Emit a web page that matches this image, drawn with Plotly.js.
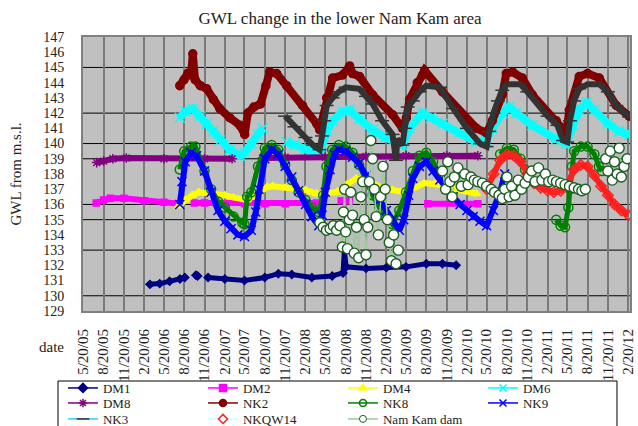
<!DOCTYPE html>
<html><head><meta charset="utf-8">
<script src="https://cdn.plot.ly/plotly-3.0.1.min.js"></script>
<style>html,body{margin:0;padding:0;background:#fff}#chart{width:638px;height:426px}</style>
</head><body><div id="chart"></div>
<script>
// ---------- axis data ----------
const tickDates = ['2005-05-20','2005-08-20','2005-11-20','2006-02-20','2006-05-20','2006-08-20','2006-11-20',
  '2007-02-20','2007-05-20','2007-08-20','2007-11-20','2008-02-20','2008-05-20','2008-08-20','2008-11-20',
  '2009-02-20','2009-05-20','2009-08-20','2009-11-20','2010-02-20','2010-05-20','2010-08-20','2010-11-20',
  '2011-02-20','2011-05-20','2011-08-20','2011-11-20','2012-02-20'];
const tickLabels = ['5/20/05','8/20/05','11/20/05','2/20/06','5/20/06','8/20/06','11/20/06',
  '2/20/07','5/20/07','8/20/07','11/20/07','2/20/08','5/20/08','8/20/08','11/20/08',
  '2/20/09','5/20/09','8/20/09','11/20/09','2/20/10','5/20/10','8/20/10','11/20/10',
  '2/20/11','5/20/11','8/20/11','11/20/11','2/20/12'];
const yTicks = [129,130,131,132,133,134,135,136,137,138,139,140,141,142,143,144,145,146,147];
const gridY = [130,133,135,136,139,140,142,145];

// ---------- series ----------
const dm1Dates = ['2006-03-18','2006-05-01','2006-06-15','2006-08-01','2006-08-23','2006-09-20','2006-10-12','2006-10-20','2006-11-10','2006-12-06','2007-02-20','2007-05-20','2007-08-20','2007-10-20','2007-12-20','2008-03-20','2008-06-20','2008-08-08','2008-08-14','2008-08-22','2008-11-20','2009-02-20','2009-05-20','2009-08-20','2009-11-01','2010-01-02'];
const dm1Values = [130.75,130.8,130.95,131.1,131.2,null,131.35,131.3,null,131.2,131.1,131.0,131.2,131.45,131.4,131.2,131.3,131.5,133.0,131.9,131.8,131.85,131.9,132.1,132.1,132.0];

const dm2Dates = ['2005-07-18','2005-08-20','2005-09-20','2005-11-20','2006-02-20','2006-05-20','2006-07-30','2006-08-30','2006-10-05','2006-11-20','2007-02-20','2007-05-20','2007-08-20','2007-11-20','2008-02-20','2008-04-10','2008-06-01','2008-07-31','2008-09-06','2009-01-01','2009-08-27','2010-04-10'];
const dm2Values = [136.1,136.3,136.4,136.4,136.25,136.15,136.05,null,136.1,136.1,136.05,136.05,136.05,136.05,136.1,136.1,null,136.25,136.25,null,136.05,136.05];

const dm4Dates = ['2006-07-25','2006-08-25','2006-09-25','2006-10-25','2006-12-20','2007-02-20','2007-04-01','2007-06-01','2007-07-20','2007-08-30','2007-09-25','2007-11-20','2008-02-20','2008-04-10','2008-07-10','2008-08-25','2008-10-05','2008-12-05','2009-01-25','2009-03-20','2009-05-20','2009-08-10','2009-09-25','2010-01-01','2010-04-05'];
const dm4Values = [135.9,136.3,136.6,136.8,136.75,136.6,136.45,136.3,136.7,137.15,137.2,137.1,136.95,136.7,136.8,137.3,137.7,137.6,137.1,136.95,136.8,137.4,137.35,137.0,136.7];

const dm6Dates = ['2006-07-31','2006-08-25','2006-09-28','2006-10-30','2006-11-30','2006-12-30','2007-01-28','2007-03-14','2007-04-29','2007-05-21','2007-06-20','2007-07-20','2007-08-11','2007-09-20','2007-11-27','2008-01-01','2008-02-20','2008-04-24','2008-05-26','2008-06-22','2008-08-06','2008-09-07','2008-10-22','2008-12-20','2009-02-17','2009-05-04','2009-06-05','2009-08-03','2009-09-10','2009-11-01','2010-01-17','2010-04-04','2010-05-19','2010-06-15','2010-07-30','2010-08-30','2010-10-01','2010-12-13','2011-03-31','2011-05-16','2011-06-15','2011-07-13','2011-08-15','2011-09-20','2011-11-20','2012-01-10','2012-02-26'];
const dm6Values = [141.7,142.1,142.3,141.8,141.3,140.8,140.2,139.6,139.2,139.4,140.0,140.6,141.0,null,140.1,139.9,139.6,139.3,140.8,141.5,142.1,142.2,141.6,140.9,140.4,139.9,141.0,142.0,141.7,141.3,140.7,140.1,140.2,141.0,142.0,142.4,142.0,141.2,140.3,140.0,141.2,142.2,142.7,142.2,141.3,140.8,140.6];

const dm8Dates = ['2005-07-20','2005-08-20','2005-10-01','2005-12-01','2006-05-20','2006-11-20','2007-03-25','2007-05-20','2007-08-10','2007-11-20','2008-05-20','2008-11-20','2009-05-20','2009-11-20','2010-04-10'];
const dm8Values = [138.75,138.85,139.0,139.05,139.0,139.0,139.0,null,139.05,139.1,139.1,139.15,139.2,139.2,139.2];

const nk2Dates = ['2006-07-31','2006-08-20','2006-09-05','2006-09-20','2006-09-28','2006-10-08','2006-11-01','2006-11-30','2006-12-30','2007-01-28','2007-03-14','2007-04-29','2007-05-21','2007-06-04','2007-07-01','2007-08-01','2007-08-25','2007-09-11','2007-10-13','2007-11-27','2008-02-07','2008-04-11','2008-04-24','2008-05-26','2008-06-22','2008-08-06','2008-09-07','2008-09-20','2008-10-22','2008-12-20','2009-03-20','2009-05-04','2009-05-22','2009-06-05','2009-07-10','2009-08-03','2009-08-12','2009-11-01','2010-01-17','2010-04-04','2010-05-19','2010-06-15','2010-07-30','2010-08-17','2010-09-15','2010-10-29','2010-12-13','2011-03-31','2011-05-16','2011-05-29','2011-07-13','2011-08-20','2011-10-12','2011-12-28','2012-02-24'];
const nk2Values = [143.8,144.2,144.6,144.5,145.9,144.2,143.8,143.6,142.9,142.3,141.7,141.2,140.6,142.0,142.4,142.6,143.8,144.7,144.6,143.8,142.5,141.3,140.9,143.0,144.3,144.5,145.1,144.6,144.4,143.2,141.9,141.0,141.7,142.9,144.0,144.5,144.8,143.4,142.1,141.0,140.7,141.5,143.2,144.6,144.7,144.3,143.2,141.5,140.7,142.2,144.4,144.6,144.3,142.5,141.8];

const nk8Dates = ['2006-07-31','2006-08-20','2006-09-20','2006-10-10','2006-11-20','2006-12-20','2007-01-20','2007-02-20','2007-04-01','2007-05-10','2007-05-20','2007-06-01','2007-06-20','2007-07-20','2007-08-20','2007-09-20','2007-10-20','2007-11-20','2007-12-20','2008-01-20','2008-02-20','2008-03-20','2008-04-20','2008-05-10','2008-05-25','2008-06-20','2008-07-20','2008-08-20','2008-09-20','2008-10-20','2008-11-20','2008-12-20','2009-01-20','2009-02-20','2009-03-20','2009-04-20','2009-05-20','2009-06-20','2009-07-20','2009-08-20','2009-09-20','2009-10-20','2010-03-01','2010-07-20','2010-08-20','2010-09-20','2010-10-20','2010-11-10','2011-01-01','2011-03-31','2011-04-20','2011-05-10','2011-05-25','2011-06-01','2011-06-10','2011-06-20','2011-07-20','2011-08-20','2011-09-20','2011-10-10','2011-10-25'];
const nk8Values = [138.3,139.5,139.8,139.8,138.2,137.0,136.2,135.8,135.2,134.8,134.7,136.5,136.8,138.5,139.7,139.9,139.6,138.6,137.6,136.8,136.3,135.8,135.5,136.6,138.5,139.6,139.9,139.8,139.4,138.6,137.6,136.6,135.8,135.2,134.7,135.6,136.8,138.2,139.2,139.4,138.8,137.9,null,139.3,139.7,139.6,139.0,138.3,null,135.0,134.6,134.5,135.8,137.0,138.5,139.5,139.8,139.8,139.3,138.5,138.2];

const nk9Dates = ['2006-07-31','2006-08-10','2006-08-25','2006-09-20','2006-10-15','2006-11-20','2006-12-20','2007-01-20','2007-02-20','2007-03-20','2007-04-20','2007-05-20','2007-06-20','2007-07-10','2007-07-25','2007-08-20','2007-09-20','2007-10-20','2007-11-20','2007-12-20','2008-01-20','2008-02-20','2008-03-20','2008-04-20','2008-05-05','2008-05-20','2008-06-10','2008-06-30','2008-07-20','2008-08-20','2008-09-20','2008-10-20','2008-11-20','2008-12-20','2009-01-20','2009-02-20','2009-03-20','2009-04-20','2009-05-10','2009-06-01','2009-06-20','2009-07-20','2009-08-20','2009-09-20','2009-10-20','2009-11-20','2009-12-20','2010-01-20','2010-02-20','2010-03-20','2010-04-20','2010-05-20','2010-06-20','2010-07-20','2010-08-10'];
const nk9Values = [136.0,137.5,138.8,139.4,139.2,138.2,136.8,135.6,134.9,134.4,134.0,133.9,134.3,135.5,137.0,139.0,139.6,139.3,138.5,137.8,136.9,136.0,135.2,134.6,135.3,136.8,138.3,139.3,139.6,139.5,139.1,138.7,137.9,137.0,136.3,135.6,135.0,134.3,135.0,136.6,137.7,138.5,138.8,138.2,137.6,137.0,136.5,136.0,135.6,135.2,134.9,134.6,135.6,136.8,138.0];

const nk3Dates = ['2007-11-20','2008-01-01','2008-02-20','2008-03-25','2008-04-24','2008-05-05','2008-05-15','2008-05-26','2008-06-22','2008-07-20','2008-08-20','2008-10-20','2008-11-20','2008-12-20','2009-02-01','2009-03-20','2009-04-05','2009-04-10','2009-05-04','2009-05-15','2009-05-28','2009-06-20','2009-07-20','2009-08-20','2009-10-20','2009-12-20','2010-02-20','2010-04-20','2010-05-20','2010-06-01','2010-06-20','2010-07-10','2010-07-30','2010-08-20','2010-10-20','2010-11-20','2011-02-20','2011-04-05','2011-05-01','2011-05-20','2011-06-01','2011-06-20','2011-07-13','2011-08-20','2011-10-12','2011-11-20','2011-12-28','2012-02-24'];
const nk3Values = [141.8,141.1,140.4,139.9,139.6,140.5,141.5,142.5,143.0,143.4,143.7,143.6,143.1,142.6,141.5,140.6,138.9,140.3,139.9,141.0,142.4,142.8,143.4,143.8,143.7,142.3,141.0,140.0,139.8,140.8,142.0,142.8,143.5,143.9,143.9,143.4,141.8,141.2,140.2,140.1,141.5,142.8,143.6,143.9,143.9,143.4,142.5,141.75];

const nkqw14Dates = ['2010-05-20','2010-06-20','2010-07-20','2010-08-20','2010-09-20','2010-10-20','2010-11-20','2010-12-20','2011-01-20','2011-02-20','2011-03-20','2011-04-20','2011-05-20','2011-06-20','2011-07-20','2011-08-20','2011-09-20','2011-10-20','2011-11-20','2011-12-20','2012-01-20','2012-02-20'];
const nkqw14Values = [137.0,138.0,138.9,139.3,139.2,138.8,138.0,137.4,137.1,136.9,136.8,136.9,137.3,138.3,138.6,138.5,137.9,137.2,136.6,136.0,135.6,135.3];

const damDates = ['2008-04-25','2008-05-10','2008-05-25','2008-06-10','2008-06-25','2008-07-10','2008-07-25','2008-08-05','2008-08-10','2008-08-15','2008-08-20','2008-08-28','2008-09-05','2008-09-12','2008-09-20','2008-09-28','2008-10-08','2008-10-18','2008-10-28','2008-11-05','2008-11-12','2008-11-20','2008-11-28','2008-12-05','2008-12-12','2008-12-20','2008-12-28','2009-01-05','2009-01-15','2009-01-25','2009-02-05','2009-02-15','2009-02-25','2009-03-05','2009-03-15','2009-03-25','2009-04-05','2009-04-15','2009-07-01','2009-11-01','2009-11-15','2009-11-25','2009-12-05','2009-12-15','2009-12-25','2010-01-10','2010-01-25','2010-02-10','2010-02-25','2010-03-10','2010-03-25','2010-04-10','2010-05-01','2010-05-20','2010-06-10','2010-06-25','2010-07-15','2010-07-30','2010-08-10','2010-08-20','2010-08-30','2010-09-10','2010-09-25','2010-10-10','2010-10-25','2010-11-10','2010-11-25','2010-12-10','2010-12-25','2011-01-10','2011-01-25','2011-02-10','2011-02-25','2011-03-15','2011-04-01','2011-04-20','2011-05-10','2011-05-30','2011-06-20','2011-07-10','2011-07-25','2011-08-10','2011-09-20','2011-11-10','2011-11-20','2011-12-01','2011-12-10','2011-12-20','2012-01-01','2012-01-10','2012-01-20','2012-02-01','2012-02-15'];
const damValues = [134.8,134.5,134.3,134.4,134.6,134.3,134.6,133.2,135.5,137.0,134.2,133.1,135.0,136.8,135.3,132.8,134.5,132.5,136.5,137.5,135.0,132.7,134.5,137.5,140.2,139.0,137.0,135.2,134.0,136.5,138.5,137.0,135.0,133.5,132.3,134.0,132.1,133.0,null,138.2,137.0,138.8,137.5,136.5,137.8,138.4,137.2,138.0,137.3,137.8,137.6,137.5,137.4,137.2,137.0,136.8,136.6,136.4,137.0,137.8,136.5,137.2,136.6,137.6,137.0,137.4,137.8,138.2,137.5,138.4,137.6,138.0,137.5,137.6,137.5,137.4,137.3,137.2,137.1,137.0,136.9,137.0,null,139.0,138.2,139.5,137.6,138.8,138.0,139.7,137.8,138.5,139.0];

// ---------- series styles ----------
const FONT = 'Liberation Serif, Times New Roman, serif';
const series = [
  {name:'DM1', x:dm1Dates, y:dm1Values, color:'#000080', lw:5, sym:'diamond', ms:6, legendLine:'#000080'},
  {name:'DM2', x:dm2Dates, y:dm2Values, color:'#FF00FF', lw:6, sym:'square', ms:6, legendLine:'#FF00FF'},
  {name:'DM4', x:dm4Dates, y:dm4Values, color:'#FFFF00', lw:6, sym:'triangle-up', ms:7, legendLine:'#FFFF00'},
  {name:'DM6', x:dm6Dates, y:dm6Values, color:'#00FFFF', lw:8, sym:'x-thin-open', ms:10, legendLine:'#00FFFF'},
  {name:'DM8', x:dm8Dates, y:dm8Values, color:'#800080', lw:6, sym:'asterisk-open', ms:8, legendLine:'#800080'},
  {name:'NK2', x:nk2Dates, y:nk2Values, color:'#800000', lw:8, sym:'circle', ms:8, legendLine:'#800000'},
  {name:'NK8', x:nk8Dates, y:nk8Values, color:'#008000', lw:5, sym:'circle-open', ms:9, legendLine:'#008000'},
  {name:'NK9', x:nk9Dates, y:nk9Values, color:'#0000FF', lw:6, sym:'x-thin-open', ms:9, legendLine:'#0000FF'},
  {name:'NK3', x:nk3Dates, y:nk3Values, color:'#333333', lw:6, sym:'line-ew-open', ms:10, legendLine:'#33CCFF'},
  {name:'NKQW14', x:nkqw14Dates, y:nkqw14Values, color:'#FF2020', lw:6, sym:'diamond-open', ms:8, legendLine:'#CCFFFF'},
  {name:'Nam Kam dam', x:damDates, y:damValues, color:'#1B5E20', lw:1.5, sym:'circle', ms:10, legendLine:'#99CC99', dam:true}
];
const legendRows = ['legend','legend','legend','legend','legend2','legend2','legend2','legend2','legend3','legend3','legend3'];

const traces = [];
series.forEach(s => {
  if (s.dam) {
    traces.push({type:'scatter', mode:'lines+markers', x:s.x, y:s.y, showlegend:false, hoverinfo:'skip',
      line:{color:s.legendLine, width:1.5}, connectgaps:false,
      marker:{symbol:'circle', size:s.ms, color:'#FFFFFF', line:{color:s.color, width:1.4}}});
  } else {
    traces.push({type:'scatter', mode:'lines+markers', x:s.x, y:s.y, showlegend:false, hoverinfo:'skip',
      line:{color:s.color, width:s.lw}, connectgaps:false,
      marker:{symbol:s.sym, size:s.ms, color:s.color, line:{color:s.color, width:1.5}}});
  }
});
// legend entries (thin line + marker, as in the reference legend)
series.forEach((s, i) => {
  const mk = s.dam ? {symbol:'circle', size:7, color:'#FFFFFF', line:{color:s.color, width:1}}
                   : {symbol:s.sym, size:(s.sym==='line-ew-open'?9:7), color:s.color, line:{color:s.color, width:1.5}};
  traces.push({type:'scatter', mode:'lines+markers', x:[null], y:[null], name:s.name, legend:legendRows[i],
    line:{color:s.legendLine, width:1.5}, marker:mk});
});

const shapes = gridY.map(v => ({type:'line', xref:'paper', x0:0, x1:1, yref:'y', y0:v, y1:v,
  line:{color:'#000000', width:1}, layer:'below'}));
// legend frame
shapes.push({type:'rect', xref:'paper', yref:'paper', x0:-0.0457, x1:0.9762, y0:-0.2555, y1:-0.50,
  line:{color:'#000000', width:1}, fillcolor:'#FFFFFF', layer:'below'});

const legendBase = {orientation:'h', x:-0.0366, xanchor:'left', yanchor:'middle',
  bgcolor:'rgba(0,0,0,0)', borderwidth:0,
  font:{family:FONT, size:13, color:'#222222'}, entrywidth:95, entrywidthmode:'pixels', itemwidth:30};

const layout = {
  width:638, height:426,
  margin:{l:83, r:8, t:37, b:115, autoexpand:false},
  paper_bgcolor:'#FFFFFF', plot_bgcolor:'#C0C0C0',
  font:{family:FONT, color:'#000000', size:13},
  title:{text:'GWL change in the lower Nam Kam area', font:{family:FONT, size:17, color:'#222222'},
    xref:'container', x:0.533, xanchor:'center', yref:'container', y:0.957, yanchor:'middle'},
  xaxis:{type:'date', range:['2005-05-19','2012-02-28'], tickvals:tickDates, ticktext:tickLabels,
    tickangle:-90, tickfont:{family:FONT, size:15, color:'#222222'}, ticks:'', ticklabelstandoff:10,
    showgrid:true, gridcolor:'#7A7A7A', gridwidth:2, zeroline:false,
    showline:true, mirror:true, linecolor:'#808080', linewidth:2, fixedrange:true},
  yaxis:{range:[129,147], tickvals:yTicks, tickfont:{family:FONT, size:14, color:'#222222'},
    ticks:'', ticklabelstandoff:14, showgrid:false, zeroline:false,
    showline:true, mirror:true, linecolor:'#808080', linewidth:2, fixedrange:true,
    title:{text:'GWL from m.s.l.', font:{family:FONT, size:15, color:'#222222'}, standoff:18}},
  shapes:shapes,
  annotations:[{text:'date', xref:'paper', yref:'paper', x:-0.057, y:-0.131, xanchor:'center', yanchor:'middle',
    showarrow:false, font:{family:FONT, size:15, color:'#222222'}}],
  legend:Object.assign({}, legendBase, {y:-0.281}),
  legend2:Object.assign({}, legendBase, {y:-0.3358}),
  legend3:Object.assign({}, legendBase, {y:-0.394}),
  showlegend:true
};

Plotly.newPlot('chart', traces, layout, {staticPlot:true, displayModeBar:false});
</script></body></html>
